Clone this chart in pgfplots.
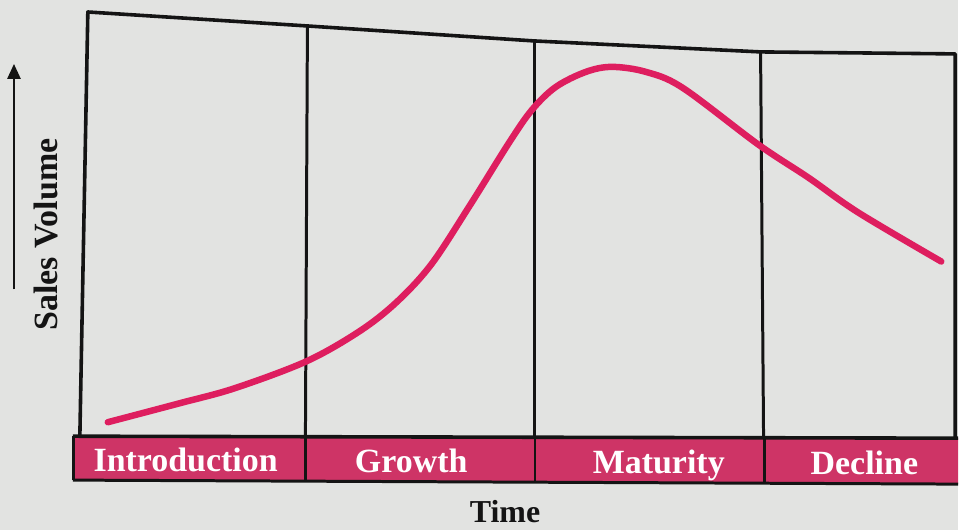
\documentclass[border=0pt]{standalone}
\usepackage{pgfplots}
\pgfplotsset{compat=1.18}
\usetikzlibrary{arrows.meta}
\usepackage{fontspec}
\setmainfont{Liberation Serif}
\definecolor{paper}{RGB}{226,227,225}
\definecolor{band}{RGB}{206,52,102}
\definecolor{curve}{RGB}{222,30,95}
\definecolor{ink}{RGB}{20,20,20}
\begin{document}
\begin{tikzpicture}
\begin{axis}[
  scale only axis, width=960pt, height=531pt,
  xmin=0, xmax=960, ymin=0, ymax=531, y dir=reverse,
  axis line style={draw=none}, ticks=none,
  axis background/.style={fill=paper},
  clip=false]
% stage band
\fill[band] (axis cs:73,437) -- (axis cs:960,439) -- (axis cs:960,485) -- (axis cs:73,481) -- cycle;
\draw[ink, line width=3pt] (axis cs:73,481) -- (axis cs:960,485);
\draw[ink, line width=3pt] (axis cs:74,437) -- (axis cs:74,481);
\draw[ink, line width=2.8pt] (axis cs:306,437) -- (axis cs:306,482);
\draw[ink, line width=2.8pt] (axis cs:536,438) -- (axis cs:536,483);
\draw[ink, line width=2.8pt] (axis cs:766,439) -- (axis cs:766,484);
% frame
\draw[ink, line width=3.6pt, line join=round] (axis cs:80,437) -- (axis cs:88,12) -- (axis cs:308,26) -- (axis cs:535,41) -- (axis cs:762,52) -- (axis cs:957,54) -- (axis cs:957,439);
\draw[ink, line width=3.6pt] (axis cs:73,437) -- (axis cs:960,439);
\draw[ink, line width=3pt] (axis cs:308,26) -- (axis cs:306,437);
\draw[ink, line width=3pt] (axis cs:535,41) -- (axis cs:535,438);
\draw[ink, line width=3pt] (axis cs:762,52) -- (axis cs:765,439);
% curve
\addplot[curve, line width=6.5pt, smooth, tension=0.55, line cap=round] coordinates {
 (108,423) (180,404) (235,389) (307,362) (360,332) (397,303) (432,265)
 (470,207) (510,143) (533,110) (557,87) (587,72) (613,67) (647,72)
 (684,88) (760,145) (810,178) (860,213) (943,262)};
% labels
\node[anchor=base, text=white, font=\bfseries\fontsize{34}{34}\selectfont, inner sep=0pt] at (axis cs:186,472) {Introduction};
\node[anchor=base, text=white, font=\bfseries\fontsize{34}{34}\selectfont, inner sep=0pt] at (axis cs:412,473) {Growth};
\node[anchor=base, text=white, font=\bfseries\fontsize{34}{34}\selectfont, inner sep=0pt] at (axis cs:660,474) {Maturity};
\node[anchor=base, text=white, font=\bfseries\fontsize{34}{34}\selectfont, inner sep=0pt] at (axis cs:866,475) {Decline};
\node[anchor=base, text=ink, font=\bfseries\fontsize{32}{32}\selectfont, inner sep=0pt] at (axis cs:506,523) {Time};
\node[anchor=base, rotate=90, text=ink, font=\bfseries\fontsize{34}{34}\selectfont, inner sep=0pt] at (axis cs:58,235) {Sales Volume};
\draw[ink, line width=2.6pt, -{Triangle[length=15pt,width=13pt]}] (axis cs:14,290) -- (axis cs:14,64);
\end{axis}
\end{tikzpicture}
\end{document}
